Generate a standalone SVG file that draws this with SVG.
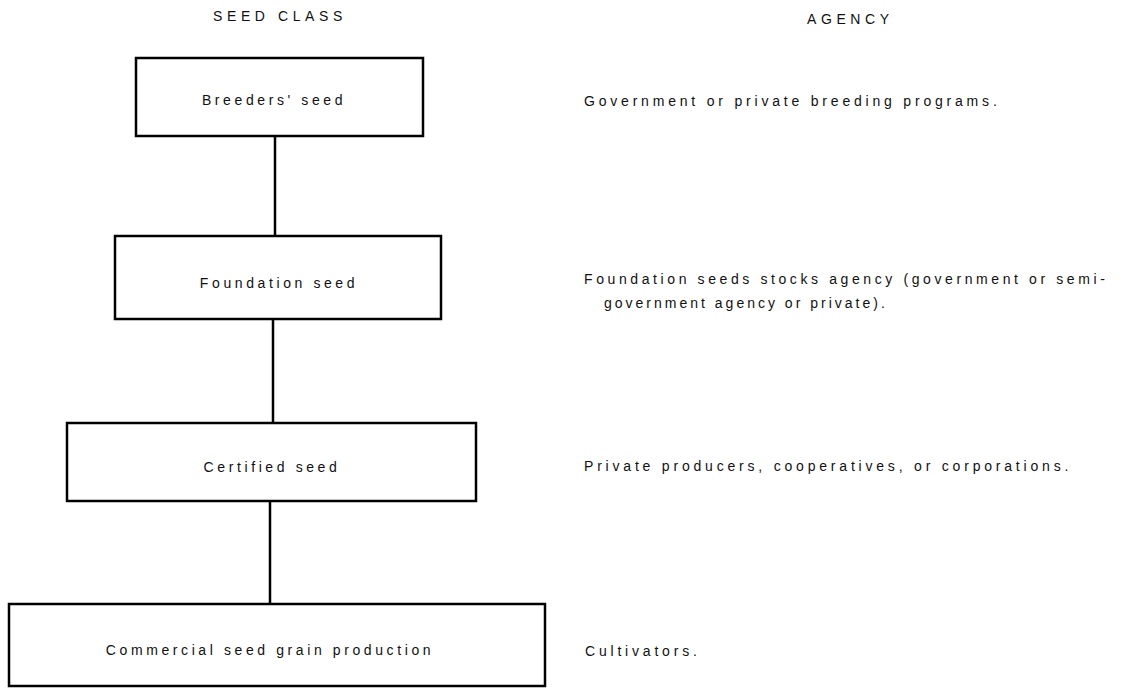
<svg xmlns="http://www.w3.org/2000/svg" width="1132" height="688" viewBox="0 0 1132 688">
<style>
.box{fill:#fff;stroke:#000;stroke-width:2.5}
.lbl{font-family:"Liberation Sans",Arial,sans-serif;font-size:14px;letter-spacing:3.6px;fill:#111;text-anchor:middle}
.ag{font-family:"Liberation Sans",Arial,sans-serif;font-size:14px;letter-spacing:3.8px;fill:#111}
.hd{font-family:"Liberation Sans",Arial,sans-serif;font-size:14px;letter-spacing:4.6px;fill:#111}
.con{stroke:#000;stroke-width:2.5;fill:none}
</style>
<rect width="1132" height="688" fill="#fff"/>
<text class="hd" x="213" y="21">SEED CLASS</text>
<text class="hd" x="807" y="24">AGENCY</text>
<g id="connectors">
<line class="con" x1="275" y1="136" x2="275" y2="236"/>
<line class="con" x1="273" y1="319" x2="273" y2="423"/>
<line class="con" x1="270" y1="501" x2="270" y2="604"/>
</g>
<g id="breeders">
<rect class="box" x="136" y="58" width="287" height="78"/>
<text class="lbl" x="274" y="105">Breeders' seed</text>
</g>
<g id="foundation">
<rect class="box" x="115" y="236" width="326" height="83"/>
<text class="lbl" x="279" y="288">Foundation seed</text>
</g>
<g id="certified">
<rect class="box" x="67" y="423" width="409" height="78"/>
<text class="lbl" x="272" y="472">Certified seed</text>
</g>
<g id="commercial">
<rect class="box" x="9" y="604" width="536" height="82"/>
<text class="lbl" x="270" y="655">Commercial seed grain production</text>
</g>
<g id="agency">
<text class="ag" x="584" y="106">Government or private breeding programs.</text>
<text class="ag" x="584" y="284" style="letter-spacing:3.6px">Foundation seeds stocks agency (government or semi-</text>
<text class="ag" x="604" y="308" style="letter-spacing:3px">government agency or private).</text>
<text class="ag" x="584" y="471">Private producers, cooperatives, or corporations.</text>
<text class="ag" x="585" y="656">Cultivators.</text>
</g>
</svg>
